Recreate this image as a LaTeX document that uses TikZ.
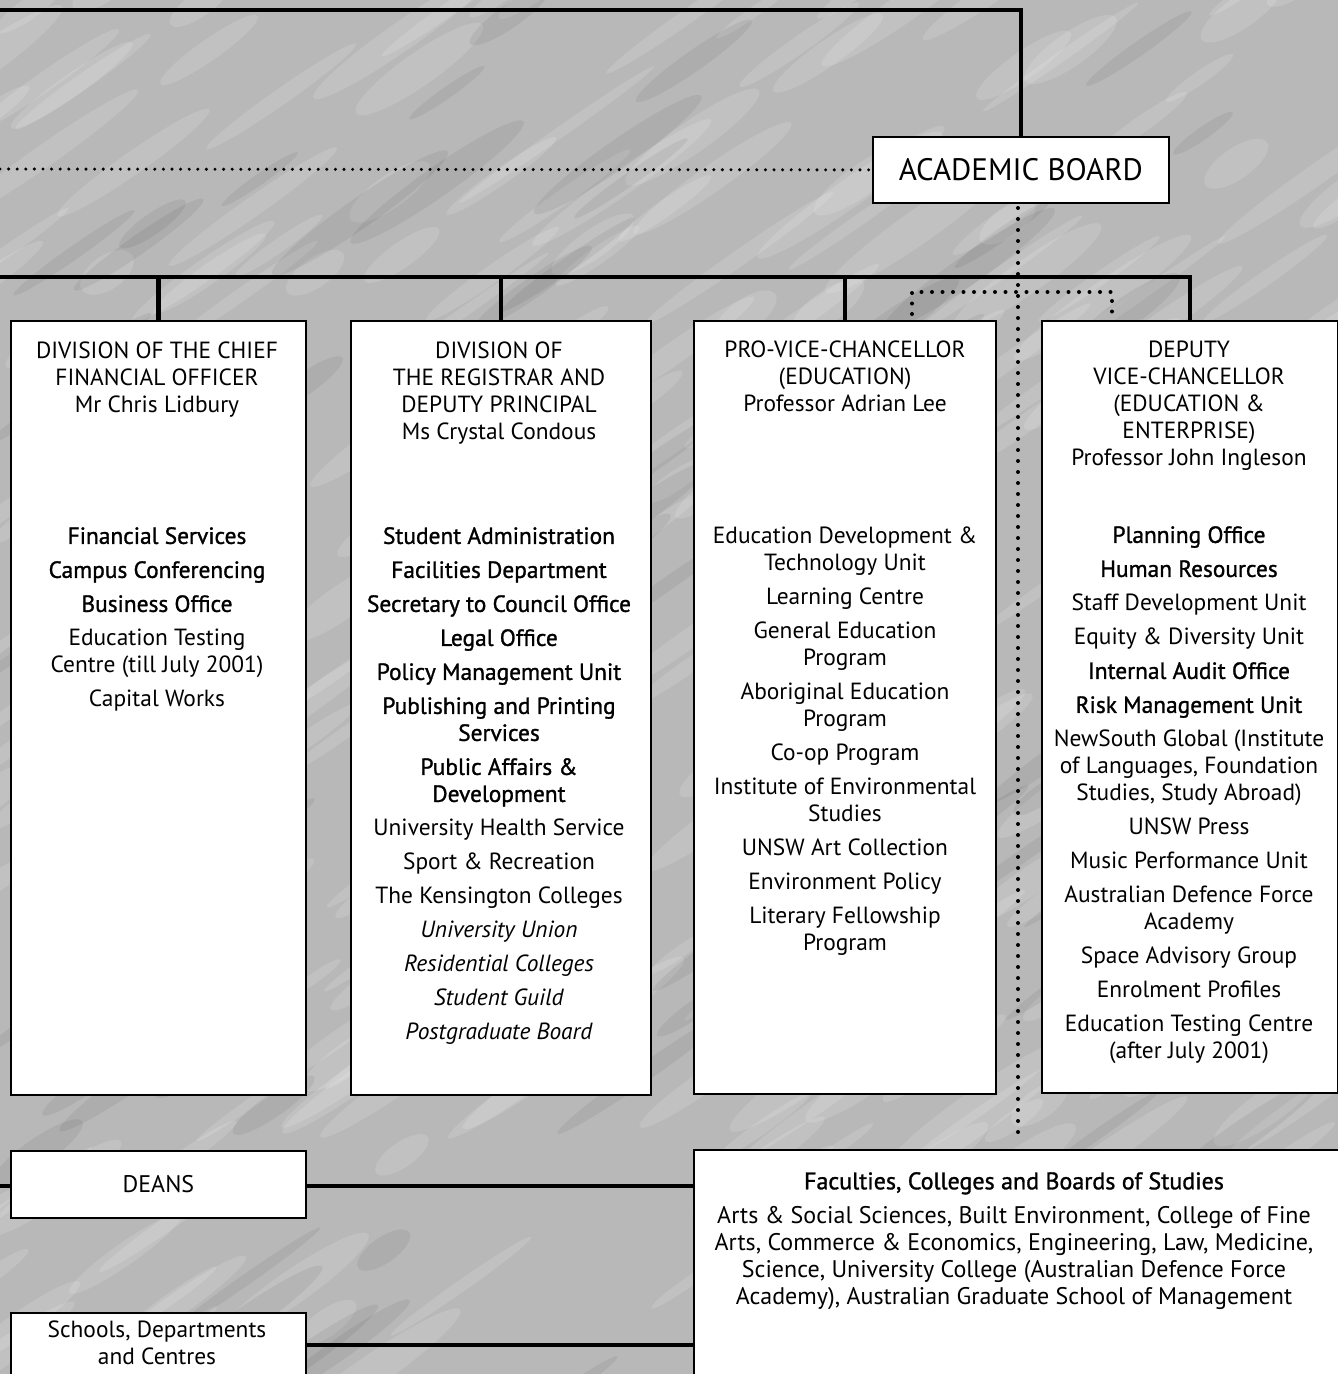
\documentclass[tikz,border=0pt]{standalone}
\usepackage{fontspec}
\setmainfont{PT Sans}
\newfontfamily\medfont[FakeBold=1.2]{PT Sans}
\begin{document}
\begin{tikzpicture}[x=1pt,y=-1pt,
  heavy/.style={line width=4.5pt},
  box/.style={draw, line width=1.8pt, fill=white, inner sep=0pt, anchor=north west},
  txt/.style={align=center, inner sep=0pt, anchor=north, font=\fontsize{23.4}{27}\selectfont},
  dotsH/.style={line width=3.4pt, line cap=round, dash pattern=on 0pt off 8.6pt},
  dotsV/.style={line width=4pt, line cap=round, dash pattern=on 0pt off 11pt},
  dotsB/.style={line width=4pt, line cap=round, dash pattern=on 0pt off 10.5pt},
  bg/.style={fill=gray!56!white}
]
\useasboundingbox (0,0) rectangle (1338,1374);
\clip (0,0) rectangle (1338,1374);
% background texture
\fill[bg] (0,0) rectangle (1338,1374);
\pgfmathsetseed{11}
\foreach \i in {1,...,260}{
  \pgfmathsetmacro{\xx}{rnd*1400-30}
  \pgfmathsetmacro{\yy}{rnd*1420-20}
  \pgfmathsetmacro{\rx}{30+rnd*90}
  \pgfmathsetmacro{\ry}{5+rnd*12}
  \fill[white,opacity=0.13, rotate around={35:(\xx,\yy)}] (\xx,\yy) ellipse [x radius=\rx, y radius=\ry];
}
\foreach \i in {1,...,90}{
  \pgfmathsetmacro{\xx}{rnd*1400-30}
  \pgfmathsetmacro{\yy}{rnd*1420-20}
  \pgfmathsetmacro{\rx}{30+rnd*80}
  \pgfmathsetmacro{\ry}{5+rnd*10}
  \fill[black,opacity=0.06, rotate around={35:(\xx,\yy)}] (\xx,\yy) ellipse [x radius=\rx, y radius=\ry];
}

% boxes
\node[box, minimum width=296pt, minimum height=66pt] (ab) at (872,136) {};
\node[font=\fontsize{31}{34}\selectfont, inner sep=0pt] (abt) at (ab.center) {ACADEMIC BOARD};

\node[box, minimum width=295pt, minimum height=774pt] (b1) at (10,320) {};
\node[box, minimum width=300pt, minimum height=774pt] (b2) at (350,320) {};
\node[box, minimum width=302pt, minimum height=773pt] (b3) at (693,320) {};
\node[box, minimum width=296pt, minimum height=772pt] (b4) at (1041,320) {};

\node[box, minimum width=295pt, minimum height=67pt] (deans) at (10,1150) {};
\node[font=\fontsize{24}{27}\selectfont, inner sep=0pt] (deanst) at (deans.center) {DEANS};
\node[box, minimum width=295pt, minimum height=120pt] (schools) at (10,1312) {};
\node[box, minimum width=650pt, minimum height=260pt] (fac) at (693,1149) {};

% connectors
\coordinate (topL) at (-5,10);
\draw[heavy] (topL) -| (ab.north);
\coordinate (dotL) at (0,169);
\draw[dotsH] (dotL) -- (ab.west);
\coordinate (barL) at (-5,277);
\draw[heavy] (barL) -| (b4.north);
\draw[heavy] (b1.north) -- (b1.north |- barL);
\draw[heavy] (b2.north) -- (b2.north |- barL);
\draw[heavy] (b3.north) -- (b3.north |- barL);
\coordinate (vdT) at (1018,208);
\coordinate (vdB) at (1018,1143);
\draw[dotsV] (vdT) -- (vdB);
\coordinate (brL) at (912,314);
\coordinate (brR) at (1112,314);
\draw[dotsB] (brL) -- (912,292) -- (1112,292) -- (brR);
\coordinate (deL) at (-5,1186);
\draw[heavy] (deL) -- (deans.west |- deL);
\draw[heavy] (deans.east |- deL) -- (fac.west |- deL);
\coordinate (scR) at (305,1345);
\draw[heavy] (scR) -- (fac.west |- scR);

% column 1
\node[txt] (h1) at (157,342) {DIVISION OF THE CHIEF\\FINANCIAL OFFICER\\Mr Chris Lidbury};
\node[txt] (l1) at (157,527) {{\medfont Financial Services}\\[7pt]
{\medfont Campus Conferencing}\\[7pt]
{\medfont Business Office}\\[7pt]
Education Testing\\Centre (till July 2001)\\[7pt]
Capital Works};

% column 2
\node[txt] (h2) at (499,342) {DIVISION OF\\THE REGISTRAR AND\\DEPUTY PRINCIPAL\\Ms Crystal Condous};
\node[txt] (l2) at (499,527) {{\medfont Student Administration}\\[7pt]
{\medfont Facilities Department}\\[7pt]
{\medfont Secretary to Council Office}\\[7pt]
{\medfont Legal Office}\\[7pt]
{\medfont Policy Management Unit}\\[7pt]
{\medfont Publishing and Printing}\\{\medfont Services}\\[7pt]
{\medfont Public Affairs \&}\\{\medfont Development}\\[7pt]
University Health Service\\[7pt]
Sport \& Recreation\\[7pt]
The Kensington Colleges\\[7pt]
\textit{University Union}\\[7pt]
\textit{Residential Colleges}\\[7pt]
\textit{Student Guild}\\[7pt]
\textit{Postgraduate Board}};

% column 3
\node[txt] (h3) at (845,341) {PRO-VICE-CHANCELLOR\\(EDUCATION)\\Professor Adrian Lee};
\node[txt] (l3) at (845,527) {Education Development \&\\Technology Unit\\[7pt]
Learning Centre\\[7pt]
General Education\\Program\\[7pt]
Aboriginal Education\\Program\\[7pt]
Co-op Program\\[7pt]
Institute of Environmental\\Studies\\[7pt]
UNSW Art Collection\\[7pt]
Environment Policy\\[7pt]
Literary Fellowship\\Program};

% column 4
\node[txt] (h4) at (1189,341) {DEPUTY\\VICE-CHANCELLOR\\(EDUCATION \&\\ENTERPRISE)\\Professor John Ingleson};
\node[txt] (l4) at (1189,526) {{\medfont Planning Office}\\[7pt]
{\medfont Human Resources}\\[7pt]
Staff Development Unit\\[7pt]
Equity \& Diversity Unit\\[7pt]
{\medfont Internal Audit Office}\\[7pt]
{\medfont Risk Management Unit}\\[7pt]
NewSouth Global (Institute\\of Languages, Foundation\\Studies, Study Abroad)\\[7pt]
UNSW Press\\[7pt]
Music Performance Unit\\[7pt]
Australian Defence Force\\Academy\\[7pt]
Space Advisory Group\\[7pt]
Enrolment Profiles\\[7pt]
Education Testing Centre\\(after July 2001)};

% bottom texts
\node[txt] (sct) at (157,1321) {Schools, Departments\\and Centres};
\node[txt, font=\fontsize{24}{27}\selectfont] (ft) at (1014,1172) {{\medfont Faculties, Colleges and Boards of Studies}\\[7pt]
Arts \& Social Sciences, Built Environment, College of Fine\\
Arts, Commerce \& Economics, Engineering, Law, Medicine,\\
Science, University College (Australian Defence Force\\
Academy), Australian Graduate School of Management};
\end{tikzpicture}
\end{document}
